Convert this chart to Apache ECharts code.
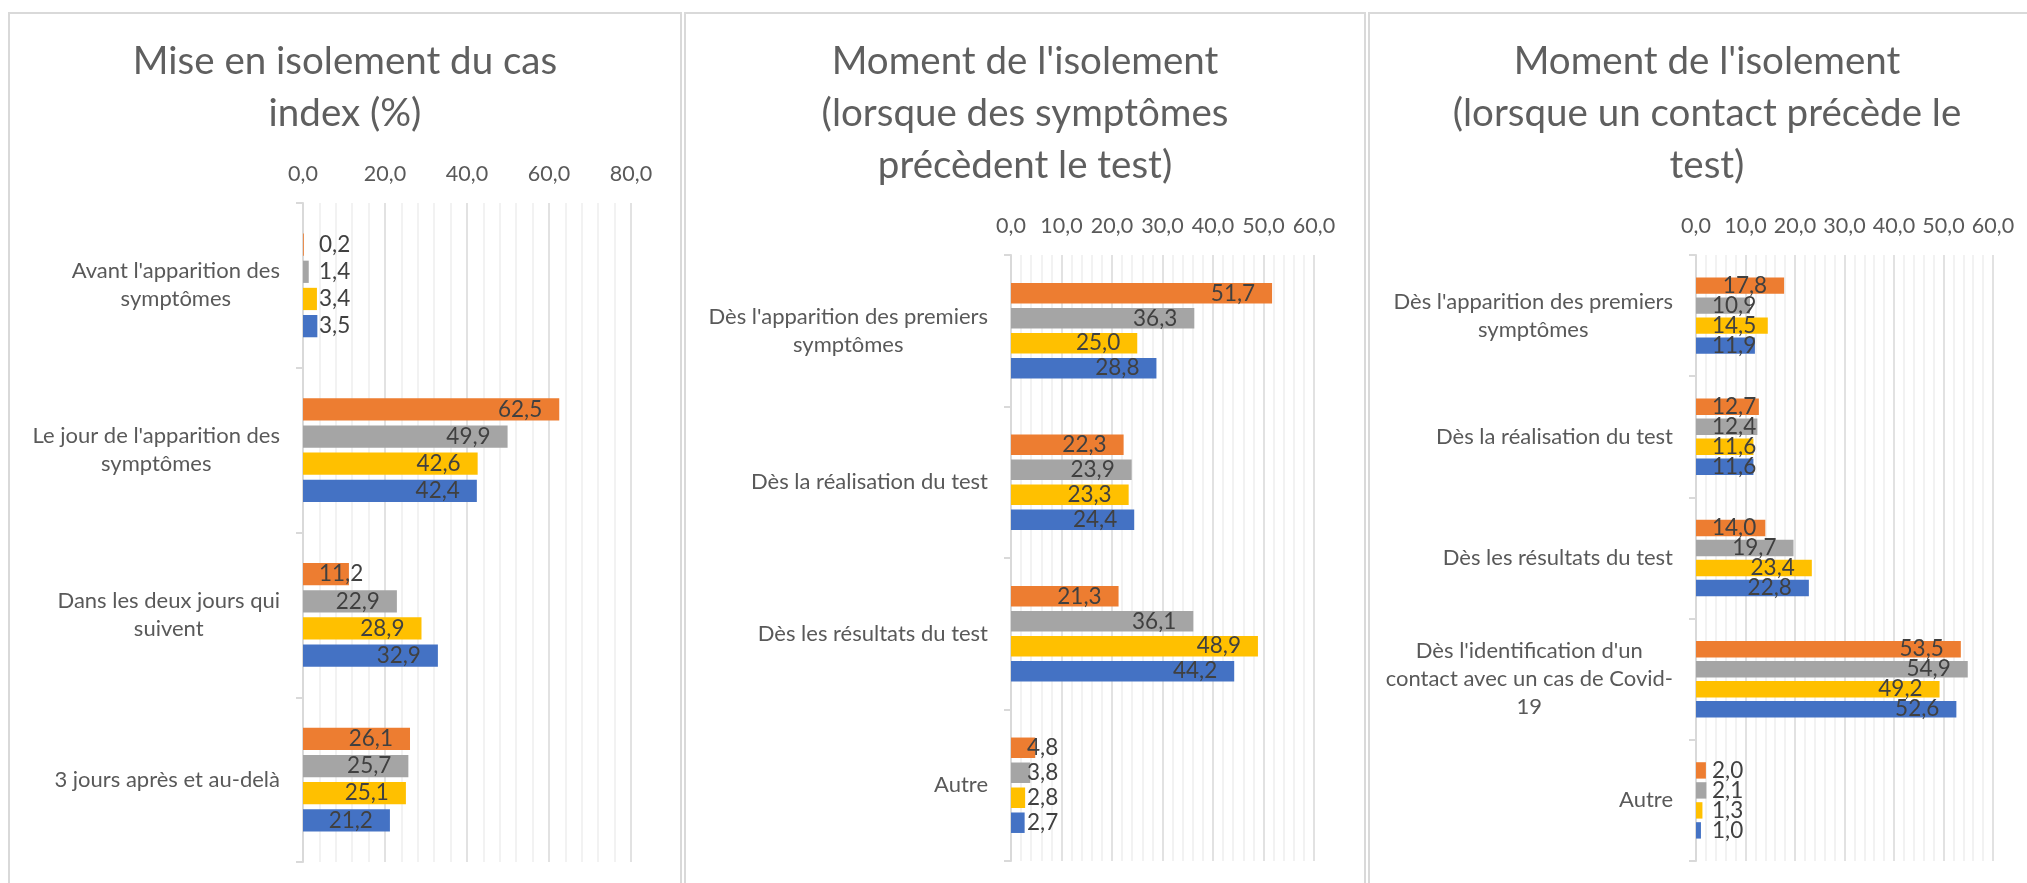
<!DOCTYPE html>
<html>
<head>
<meta charset="utf-8">
<script src="https://cdn.jsdelivr.net/npm/echarts@6/dist/echarts.min.js"></script>
<style>
    html, body { margin: 0; padding: 0; background: #fff; }
    #chart { width: 2027px; height: 883px; }
</style>
</head>
<body>
<div id="chart"></div>
<script>
'use strict';

// titles of the three panels
var titles = [
    'Mise en isolement du cas\nindex (%)',
    "Moment de l'isolement\n(lorsque des symptômes\nprécèdent le test)",
    "Moment de l'isolement\n(lorsque un contact précède le\ntest)"
];

// panel 1
var cats1 = ["Avant l'apparition des\nsymptômes", "Le jour de l'apparition des\nsymptômes",
    'Dans les deux jours qui\nsuivent', '3 jours après et au-delà'];
var orange1 = [0.2, 62.5, 11.2, 26.1];
var gray1 = [1.4, 49.9, 22.9, 25.7];
var yellow1 = [3.4, 42.6, 28.9, 25.1];
var blue1 = [3.5, 42.4, 32.9, 21.2];
var ticks1 = [0, 20, 40, 60, 80];

// panel 2
var cats2 = ["Dès l'apparition des premiers\nsymptômes", 'Dès la réalisation du test',
    'Dès les résultats du test', 'Autre'];
var orange2 = [51.7, 22.3, 21.3, 4.8];
var gray2 = [36.3, 23.9, 36.1, 3.8];
var yellow2 = [25.0, 23.3, 48.9, 2.8];
var blue2 = [28.8, 24.4, 44.2, 2.7];
var ticks2 = [0, 10, 20, 30, 40, 50, 60];

// panel 3
var cats3 = ["Dès l'apparition des premiers\nsymptômes", 'Dès la réalisation du test',
    'Dès les résultats du test', "Dès l'identification d'un\ncontact avec un cas de Covid-\n19", 'Autre'];
var orange3 = [17.8, 12.7, 14.0, 53.5, 2.0];
var gray3 = [10.9, 12.4, 19.7, 54.9, 2.1];
var yellow3 = [14.5, 11.6, 23.4, 49.2, 1.3];
var blue3 = [11.9, 11.6, 22.8, 52.6, 1.0];
var ticks3 = [0, 10, 20, 30, 40, 50, 60];

var seriesNames = ['Série 2', 'Série 3', 'Série 4', 'Série 1'];
var colors = ['#ED7D31', '#A5A5A5', '#FFC000', '#4472C4'];
var font = 'Lato, "Open Sans", sans-serif';

var panels = [
    { box: [9, 13, 672], titleX: 345, grid: [303, 203, 328, 659], cats: cats1, ticks: ticks1,
        values: [orange1, gray1, yellow1, blue1] },
    { box: [685, 13, 680], titleX: 1025, grid: [1011, 255, 303, 606], cats: cats2, ticks: ticks2,
        values: [orange2, gray2, yellow2, blue2] },
    { box: [1369, 13, 700], titleX: 1707, grid: [1696, 255, 297, 606], cats: cats3, ticks: ticks3,
        values: [orange3, gray3, yellow3, blue3] }
];

function fmt(v) {
    return v.toFixed(1).replace('.', ',');
}

// each line of a category name is centred, like in Excel
function catLabel(v) {
    return v.split('\n').map(function (l) { return '{c|' + l + '}'; }).join('\n');
}

var option = {
    backgroundColor: '#fff',
    animation: false,
    title: [],
    grid: [],
    xAxis: [],
    yAxis: [],
    series: [],
    graphic: []
};

panels.forEach(function (p, i) {
    var ticks = p.ticks;
    var max = ticks[ticks.length - 1];
    var pxPerUnit = p.grid[2] / max;

    option.graphic.push({
        type: 'rect',
        shape: { x: p.box[0], y: p.box[1], width: p.box[2], height: 900 },
        style: { fill: 'none', stroke: '#d9d9d9', lineWidth: 2 },
        silent: true
    });

    option.title.push({
        text: titles[i],
        left: p.titleX,
        top: 36,
        textAlign: 'center',
        padding: 0,
        textStyle: { fontFamily: font, fontSize: 38.5, fontWeight: 'normal', lineHeight: 52, color: '#5f5f5f' }
    });

    option.grid.push({ left: p.grid[0], top: p.grid[1], width: p.grid[2], height: p.grid[3] });

    option.xAxis.push({
        type: 'value',
        gridIndex: i,
        position: 'top',
        min: ticks[0],
        max: max,
        interval: ticks[1] - ticks[0],
        axisLine: { show: false },
        axisTick: { show: false },
        minorTick: { show: false, splitNumber: 5 },
        splitLine: { show: true, lineStyle: { color: '#d9d9d9', width: 1.5 } },
        minorSplitLine: { show: true, lineStyle: { color: '#eeeeee', width: 1.5 } },
        axisLabel: { margin: 18, fontFamily: font, fontSize: 21.5, color: '#595959', formatter: fmt }
    });

    option.yAxis.push({
        type: 'category',
        gridIndex: i,
        inverse: true,
        data: p.cats,
        axisLine: { show: true, lineStyle: { color: '#d9d9d9', width: 2 } },
        axisTick: { show: true, length: 7, lineStyle: { color: '#d9d9d9', width: 2 } },
        splitLine: { show: false },
        axisLabel: {
            margin: 23,
            formatter: catLabel,
            rich: { c: { align: 'center', fontFamily: font, fontSize: 22, lineHeight: 28, color: '#595959' } }
        }
    });

    p.values.forEach(function (vals, k) {
        option.series.push({
            type: 'bar',
            name: seriesNames[k],
            xAxisIndex: i,
            yAxisIndex: i,
            barGap: '22%',
            barCategoryGap: '37%',
            itemStyle: { color: colors[k] },
            label: {
                show: true,
                position: 'insideRight',
                distance: 17,
                fontFamily: font,
                fontSize: 22.5,
                color: '#404040',
                formatter: function (d) { return fmt(d.value); }
            },
            data: vals.map(function (v) {
                // short bars: Excel keeps the label next to the axis
                if (v * pxPerUnit < 77) {
                    return { value: v, label: { position: 'insideLeft', distance: 16 } };
                }
                return v;
            })
        });
    });
});

var chart = echarts.init(document.getElementById('chart'));
chart.setOption(option);
</script>
</body>
</html>
